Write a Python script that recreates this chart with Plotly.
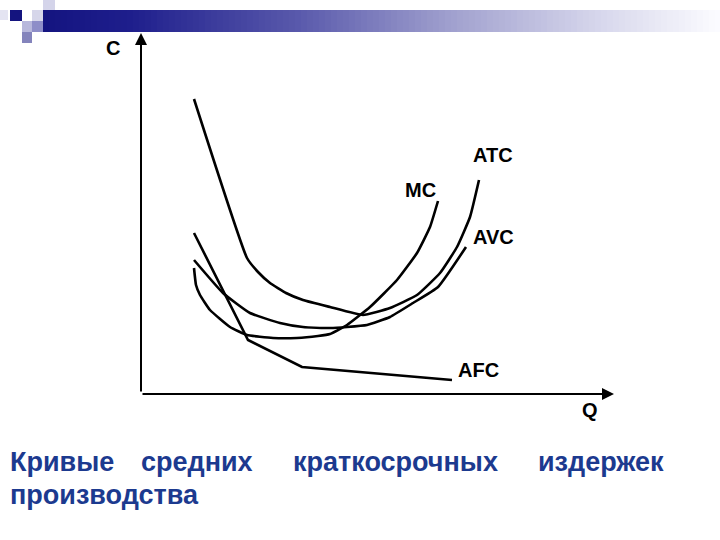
import plotly.graph_objects as go

# Data in chart units: Q = px - 141, C = 393 - py
atc_q = [53, 106, 117, 129, 145, 162, 189, 222, 249, 276, 299, 316, 329, 338]
atc_c = [294, 135, 121, 110, 100, 93, 86, 78, 85, 98, 120, 146, 176, 213]

mc_q = [53, 55, 59, 69, 89, 106, 132, 156, 177, 189, 206, 229, 256, 276, 289, 297]
mc_c = [125, 108, 98, 83, 66, 58, 55, 55, 57, 59, 68, 86, 113, 140, 166, 192]

avc_q = [53, 82, 109, 139, 162, 189, 206, 226, 249, 272, 297, 325]
avc_c = [133, 100, 80, 70, 66, 65, 66, 68, 76, 90, 106, 146]

afc_q = [53, 107, 161, 311]
afc_c = [160, 53, 26, 13]

curve_labels = ["ATC", "MC", "AVC", "AFC"]
label_q = [352, 279, 352, 337]
label_c = [238, 203, 156, 23]

title_words = ["Кривые", "средних", "краткосрочных", "издержек"]
title_line2 = "производства"

fig = go.Figure()
for q, c, shp in [(atc_q, atc_c, "spline"), (mc_q, mc_c, "spline"),
                  (avc_q, avc_c, "spline"), (afc_q, afc_c, "linear")]:
    fig.add_trace(go.Scatter(x=q, y=c, mode="lines",
                             line=dict(color="black", width=2.6, shape=shp, smoothing=0.4),
                             hoverinfo="skip", showlegend=False))

shapes = []
# decorative gradient bar
stops = [(43, (20, 20, 128)), (130, (30, 30, 140)), (300, (90, 90, 172)),
         (450, (160, 160, 206)), (600, (215, 215, 236)), (720, (252, 252, 255))]
def col(px):
    for (x0, c0), (x1, c1) in zip(stops[:-1], stops[1:]):
        if x0 <= px <= x1:
            t = (px - x0) / (x1 - x0)
            return "rgb(%d,%d,%d)" % tuple(round(a + (b - a) * t) for a, b in zip(c0, c1))
    return "rgb(252,252,255)"
step = 6
for px in range(43, 720, step):
    shapes.append(dict(type="rect", xref="paper", yref="paper",
                       x0=px / 720, x1=min(px + step + 1, 720) / 720,
                       y0=1 - 32 / 540, y1=1 - 10 / 540,
                       fillcolor=col(px + step / 2), line=dict(width=0), layer="below"))
# decorative squares
squares = [(0, 10, 8, 20, "#e4e4f2"), (10, 10, 22, 21, "#14147f"),
           (32, 10, 43, 21, "#d6d6ea"), (43, 0, 55, 10, "#d4d4ea"),
           (22, 21, 32, 32, "#b8b8dc"), (32, 21, 43, 32, "#8e8ec8"),
           (22, 32, 32, 43, "#8484bc")]
for x0, y0, x1, y1, c in squares:
    shapes.append(dict(type="rect", xref="paper", yref="paper",
                       x0=x0 / 720, x1=x1 / 720, y0=1 - y1 / 540, y1=1 - y0 / 540,
                       fillcolor=c, line=dict(width=0), layer="below"))

lab_font = dict(family="Liberation Sans, Arial", size=20, color="black", weight="bold")
ann = []
# axes as arrows
ann.append(dict(x=0, y=360, ax=0, ay=0, xref="x", yref="y", axref="x", ayref="y",
                showarrow=True, arrowhead=2, arrowsize=1.2, arrowwidth=2, arrowcolor="black", text=""))
ann.append(dict(x=473, y=-1, ax=0, ay=-1, xref="x", yref="y", axref="x", ayref="y",
                showarrow=True, arrowhead=2, arrowsize=1.2, arrowwidth=2, arrowcolor="black", text=""))
ann.append(dict(x=-28, y=345, text="C", showarrow=False, font=lab_font, xref="x", yref="y"))
ann.append(dict(x=449, y=-17, text="Q", showarrow=False, font=lab_font, xref="x", yref="y"))
for t, q, c in zip(curve_labels, label_q, label_c):
    ann.append(dict(x=q, y=c, text=t, showarrow=False, font=lab_font, xref="x", yref="y"))

title_font = dict(family="Liberation Sans, Arial", size=27, color="#1c3a8f", weight="bold")
word_px = [8, 139, 291, 536]
for w, px in zip(title_words, word_px):
    ann.append(dict(x=px / 720, y=1 - 462 / 540, xref="paper", yref="paper", text=w,
                    xanchor="left", yanchor="middle", showarrow=False, font=title_font))
ann.append(dict(x=8 / 720, y=1 - 495 / 540, xref="paper", yref="paper", text=title_line2,
                xanchor="left", yanchor="middle", showarrow=False, font=title_font))

fig.update_layout(width=720, height=540, margin=dict(l=0, r=0, t=0, b=0),
                  paper_bgcolor="white", plot_bgcolor="white",
                  xaxis=dict(range=[-141, 579], visible=False, fixedrange=True),
                  yaxis=dict(range=[-147, 393], visible=False, fixedrange=True),
                  shapes=shapes, annotations=ann)
fig.write_html("out.html")
